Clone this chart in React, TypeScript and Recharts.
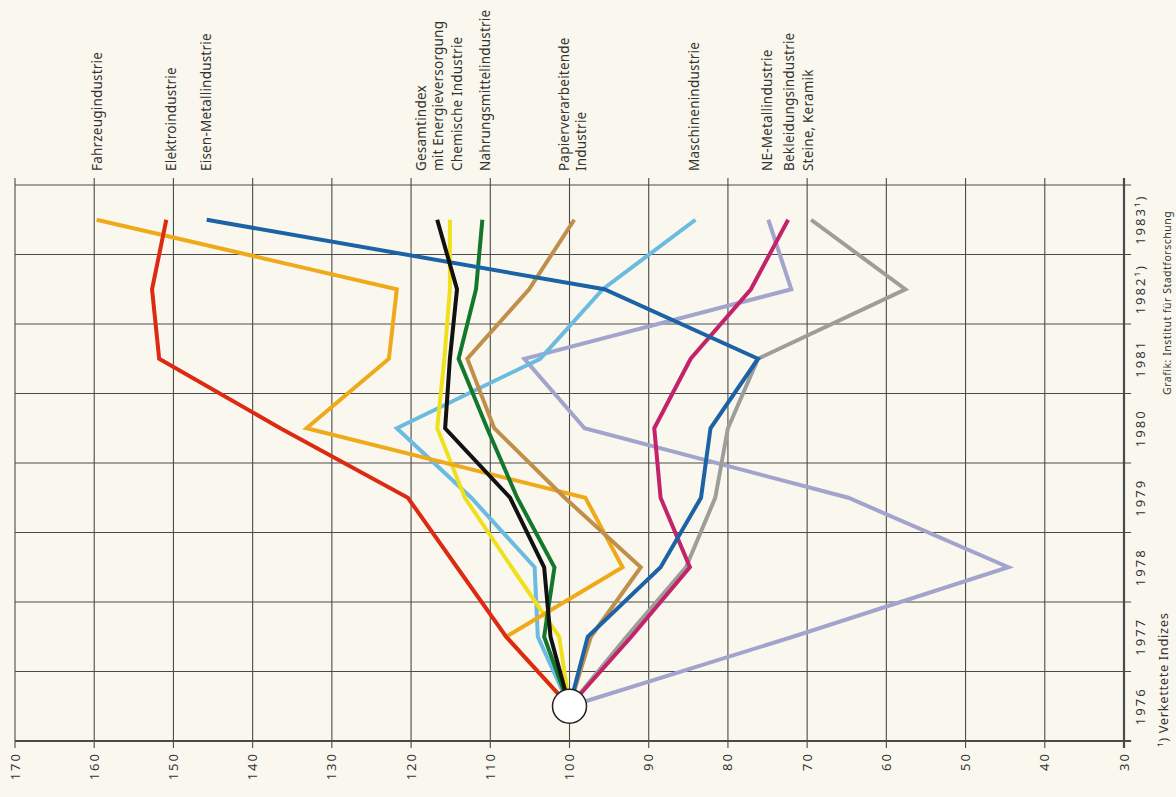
import React from 'react';
import { LineChart, Line, XAxis, YAxis, ReferenceLine, ReferenceDot } from 'recharts';

// Jahre (Bänder auf der senkrechten Achse)
const years = [1976, 1977, 1978, 1979, 1980, 1981, 1982, 1983];
const yearLabels = ['1976', '1977', '1978', '1979', '1980', '1981', '1982¹)', '1983¹)'];

// Indexwerte je Branche, 1976 = 100
const fahrzeug = [100, 108, 93.3, 98, 133.2, 122.8, 121.8, 159.7];
const elektro = [100, 108, 114.2, 120.4, 136.5, 151.8, 152.7, 150.9];
const eisenMetall = [100, 97.7, 88.5, 83.4, 82.2, 76.2, 95.6, 145.8];
const gesamt = [100, 102.4, 103.2, 107.5, 115.7, 115.1, 114.2, 116.7];
const chemie = [100, 101.3, 107.3, 113.2, 116.7, 115.8, 115.1, 115.1];
const nahrung = [100, 103.2, 101.9, 106.6, 110.4, 114.0, 111.8, 111.0];
const papier = [100, 97.3, 91.0, 100.6, 109.5, 112.9, 105.1, 99.4];
const maschinen = [100, 104, 104.4, 112.4, 121.8, 103.7, 95.8, 84.1];
const neMetall = [100, 71.8, 44.6, 64.8, 98.1, 105.7, 72.0, 74.9];
const bekleidung = [100, 92.2, 84.8, 88.5, 89.3, 84.7, 77.1, 72.4];
const steine = [100, 92.8, 85.3, 81.6, 80.0, 76.2, 57.6, 69.5];

const indexTicks = [170, 160, 150, 140, 130, 120, 110, 100, 90, 80, 70, 60, 50, 40, 30];
const bandEdges = [1975.5, 1976.5, 1977.5, 1978.5, 1979.5, 1980.5, 1981.5, 1982.5, 1983.5];

// Beschriftungen oben, über dem Endpunkt 1983
const labelTexts = [
  ['Fahrzeugindustrie'],
  ['Elektroindustrie'],
  ['Eisen-Metallindustrie'],
  ['Gesamtindex', 'mit Energieversorgung'],
  ['Chemische Industrie'],
  ['Nahrungsmittelindustrie'],
  ['Papierverarbeitende', 'Industrie'],
  ['Maschinenindustrie'],
  ['NE-Metallindustrie'],
  ['Bekleidungsindustrie'],
  ['Steine, Keramik'],
];
const labelAt = [159.6, 150.3, 145.8, 117.7, 114.2, 110.6, 99.6, 84.2, 75.0, 72.2, 69.9];

// Zeichenreihenfolge: hinten -> vorne
const seriesList = [
  { key: 'neMetall', values: neMetall, color: '#a2a4cd' },
  { key: 'steine', values: steine, color: '#9d9d9a' },
  { key: 'maschinen', values: maschinen, color: '#6bbbe0' },
  { key: 'chemie', values: chemie, color: '#f0e01c' },
  { key: 'fahrzeug', values: fahrzeug, color: '#eeaa1a' },
  { key: 'papier', values: papier, color: '#c08f4c' },
  { key: 'nahrung', values: nahrung, color: '#13772d' },
  { key: 'bekleidung', values: bekleidung, color: '#c3236b' },
  { key: 'eisenMetall', values: eisenMetall, color: '#1c63a5' },
  { key: 'elektro', values: elektro, color: '#dc2b12' },
  { key: 'gesamt', values: gesamt, color: '#111111' },
];

const chartData = years.map((year, i) => {
  const row: Record<string, number> = { year };
  seriesList.forEach((s) => {
    row[s.key] = s.values[i];
  });
  return row;
});

const font = '"Noto Sans", "DejaVu Sans", sans-serif';
const ink = '#333';
const gridColor = '#4a4a4a';

const IndexTick = ({ x, y, payload }: any) => (
  <text
    transform={`translate(${x},${y}) rotate(-90)`}
    dy="0.35em"
    textAnchor="end"
    fontSize={13}
    letterSpacing={2}
    fill={ink}
    fontFamily={font}
  >
    {payload.value}
  </text>
);

const YearTick = ({ x, y, payload }: any) => (
  <text
    transform={`translate(${x},${y}) rotate(-90)`}
    dy="0.35em"
    textAnchor="middle"
    fontSize={13}
    letterSpacing={2}
    fill={ink}
    fontFamily={font}
  >
    {yearLabels[years.indexOf(payload.value)]}
  </text>
);

const makeLabelShape = (lines: string[]) => (p: any) => {
  const gap = 17;
  const x0 = p.cx - ((lines.length - 1) * gap) / 2;
  return (
    <g>
      {lines.map((t, i) => (
        <text
          key={i}
          transform={`translate(${x0 + i * gap},${p.cy - 14}) rotate(-90)`}
          dy="0.35em"
          fontSize={13.5}
          letterSpacing={0.2}
          fill={ink}
          fontFamily={font}
        >
          {t}
        </text>
      ))}
    </g>
  );
};

export default function App() {
  return (
    <div
      style={{
        position: 'fixed',
        left: 0,
        top: 0,
        width: 1176,
        height: 797,
        background: '#faf8ee',
        fontFamily: font,
      }}
    >
      <LineChart
        width={1176}
        height={797}
        layout="vertical"
        data={chartData}
        margin={{ top: 185, right: 0, bottom: 0, left: 15 }}
      >
        <XAxis
          type="number"
          domain={[30, 170]}
          reversed
          ticks={indexTicks}
          interval={0}
          axisLine={false}
          tickLine={false}
          tickSize={9}
          tickMargin={2}
          height={56}
          tick={<IndexTick />}
        />
        <YAxis
          type="number"
          dataKey="year"
          domain={[1975.5, 1983.5]}
          reversed
          ticks={years}
          interval={0}
          orientation="right"
          axisLine={false}
          tickLine={false}
          tickSize={14}
          tickMargin={2}
          width={52}
          tick={<YearTick />}
        />

        {indexTicks.map((v) => (
          <ReferenceLine
            key={`v${v}`}
            segment={[{ x: v, y: 1975.4 }, { x: v, y: 1983.6 }]}
            stroke={gridColor}
            strokeWidth={v === 30 ? 2.2 : 1.1}
            ifOverflow="visible"
          />
        ))}
        {bandEdges.map((e) => (
          <ReferenceLine
            key={`h${e}`}
            segment={[{ x: 170, y: e }, { x: 29.1, y: e }]}
            stroke={gridColor}
            strokeWidth={e === 1975.5 ? 2.2 : 1.1}
            ifOverflow="visible"
          />
        ))}

        {seriesList.map((s) => (
          <Line
            key={s.key}
            type="linear"
            dataKey={s.key}
            stroke={s.color}
            strokeWidth={4}
            dot={false}
            activeDot={false}
            isAnimationActive={false}
          />
        ))}

        <ReferenceDot
          x={100}
          y={1976}
          r={17}
          fill="#ffffff"
          stroke="#222"
          strokeWidth={1.5}
          ifOverflow="visible"
        />

        {labelTexts.map((lines, i) => (
          <ReferenceDot
            key={`l${i}`}
            x={labelAt[i]}
            y={1983.5}
            r={0}
            ifOverflow="visible"
            shape={makeLabelShape(lines)}
          />
        ))}
      </LineChart>

      <svg
        width={1176}
        height={797}
        style={{ position: 'absolute', left: 0, top: 0, pointerEvents: 'none' }}
      >
        <text
          transform="translate(1163,747) rotate(-90)"
          dy="0.35em"
          fontSize={13}
          letterSpacing={0.6}
          fill={ink}
          fontFamily={font}
        >
          ¹) Verkettete Indizes
        </text>
        <text
          transform="translate(1167,395) rotate(-90)"
          dy="0.35em"
          fontSize={10.5}
          letterSpacing={0.5}
          fill={ink}
          fontFamily={font}
        >
          Grafik: Institut für Stadtforschung
        </text>
      </svg>
    </div>
  );
}
